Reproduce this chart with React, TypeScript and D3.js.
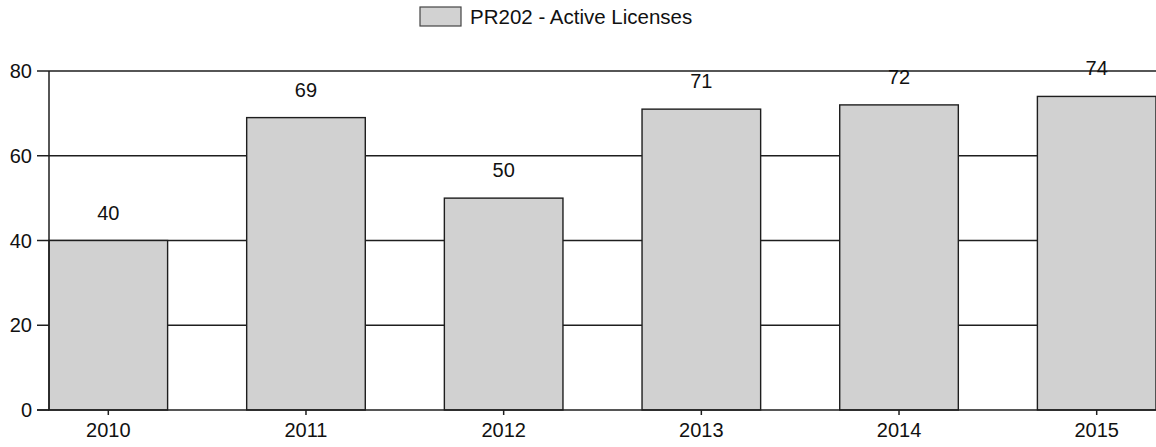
import React from 'react'
import * as d3 from 'd3'

const years = ['2010', '2011', '2012', '2013', '2014', '2015']
const activeLicenses = [40, 69, 50, 71, 72, 74]
const yTicks = [0, 20, 40, 60, 80]
const seriesName = 'PR202 - Active Licenses'

const width = 1156
const height = 447
const margin = { top: 71, right: 0, bottom: 37, left: 49 }
const font = 'Arial, "Liberation Sans", Helvetica, sans-serif'

export default function App() {
  const x = d3
    .scaleBand<string>()
    .domain(years)
    .range([margin.left, width - margin.right])
    .paddingInner(0.4)
    .paddingOuter(0)

  const y = d3
    .scaleLinear()
    .domain([0, 80])
    .range([height - margin.bottom, margin.top])

  const ink = '#1e1e1e'

  return (
    <svg
      width={width}
      height={height}
      style={{ position: 'absolute', left: 0, top: 0, background: '#fff' }}
      fontFamily={font}
    >
      {/* legend */}
      <g>
        <rect x={420} y={7} width={41} height={19} fill="#d2d2d2" stroke="#444" strokeWidth={1.2} />
        <text x={470} y={24} fontSize={20.5} fill="#111">
          {seriesName}
        </text>
      </g>

      {/* gridlines */}
      {yTicks
        .filter((t) => t > 0)
        .map((t) => (
          <line
            key={t}
            x1={margin.left}
            x2={width - margin.right}
            y1={y(t)}
            y2={y(t)}
            stroke={ink}
            strokeWidth={1.5}
          />
        ))}

      {/* bars */}
      {years.map((yr, i) => (
        <g key={yr}>
          <rect
            x={x(yr)!}
            y={y(activeLicenses[i])}
            width={x.bandwidth()}
            height={y(0) - y(activeLicenses[i])}
            fill="#d1d1d1"
            stroke={ink}
            strokeWidth={1.4}
          />
          <text
            x={x(yr)! + x.bandwidth() / 2}
            y={y(activeLicenses[i]) - 21}
            textAnchor="middle"
            fontSize={20}
            fill="#111"
          >
            {activeLicenses[i]}
          </text>
        </g>
      ))}

      {/* y axis */}
      <line x1={margin.left} x2={margin.left} y1={y(80)} y2={y(0)} stroke={ink} strokeWidth={1.5} />
      {yTicks.map((t) => (
        <g key={t}>
          <line x1={margin.left - 12} x2={margin.left} y1={y(t)} y2={y(t)} stroke={ink} strokeWidth={1.5} />
          <text x={margin.left - 17} y={y(t) + 7} textAnchor="end" fontSize={20} fill="#111">
            {t}
          </text>
        </g>
      ))}

      {/* x axis */}
      <line x1={margin.left - 12} x2={width - margin.right} y1={y(0)} y2={y(0)} stroke={ink} strokeWidth={1.5} />
      {years.map((yr) => {
        const cx = x(yr)! + x.bandwidth() / 2
        return (
          <g key={yr}>
            <line x1={cx} x2={cx} y1={y(0)} y2={y(0) + 5} stroke={ink} strokeWidth={1.5} />
            <text x={cx} y={y(0) + 27} textAnchor="middle" fontSize={20} fill="#111">
              {yr}
            </text>
          </g>
        )
      })}
    </svg>
  )
}
